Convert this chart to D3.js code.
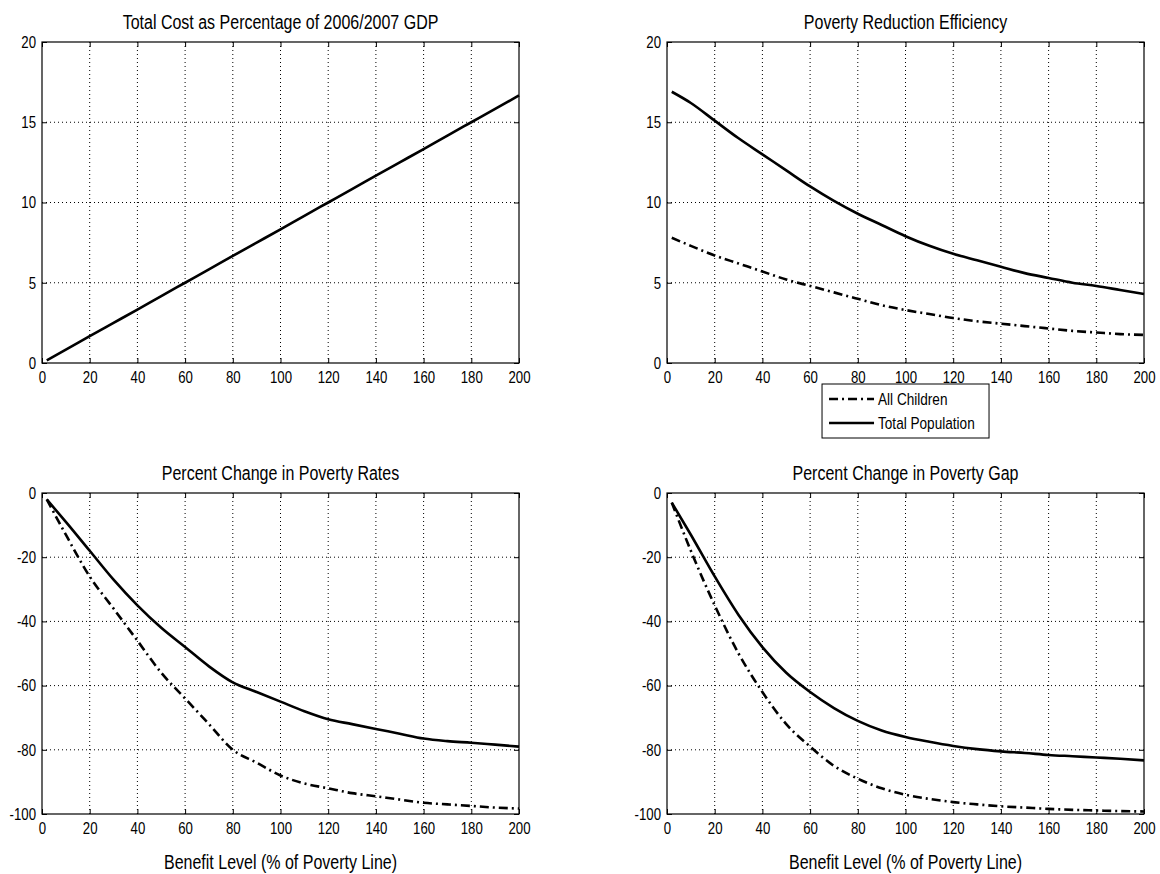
<!DOCTYPE html>
<html>
<head>
<meta charset="utf-8">
<script src="https://cdn.jsdelivr.net/npm/d3@7"></script>
<style>
  body { margin: 0; background: #fff; }
  svg text { font-family: "Liberation Sans", Arial, sans-serif; fill: #000; }
</style>
</head>
<body>
<svg id="chart" width="1160" height="874"></svg>
<script>
// benefit level (% of poverty line)
const benefitLevels = [2, 10, 20, 30, 40, 50, 60, 70, 80, 90, 100, 110, 120, 130, 140, 150, 160, 170, 180, 190, 200];
const xTicks = [0, 20, 40, 60, 80, 100, 120, 140, 160, 180, 200];

const costPctGdp = [0.17, 0.83, 1.67, 2.50, 3.33, 4.17, 5.00, 5.83, 6.67, 7.50, 8.33, 9.17, 10.00, 10.83, 11.67, 12.50, 13.33, 14.17, 15.00, 15.83, 16.67];

const effChildren = [7.8, 7.3, 6.7, 6.2, 5.7, 5.2, 4.8, 4.4, 4.0, 3.6, 3.3, 3.05, 2.8, 2.6, 2.45, 2.3, 2.15, 2.0, 1.9, 1.8, 1.75];
const effTotal = [16.9, 16.2, 15.1, 14.0, 13.0, 12.0, 11.0, 10.1, 9.3, 8.6, 7.9, 7.3, 6.8, 6.4, 6.0, 5.6, 5.3, 5.0, 4.8, 4.55, 4.3];

const rateChildren = [-2, -13, -26, -36, -46, -56, -64, -72, -80, -84, -88, -90.5, -92, -93.5, -94.5, -95.5, -96.5, -97, -97.5, -98, -98.3];
const rateTotal = [-2, -9, -18, -27, -35, -42, -48, -54, -59, -62, -65, -68, -70.5, -72, -73.5, -75, -76.5, -77.3, -77.8, -78.4, -79];

const gapChildren = [-3, -18, -35, -50, -62, -72, -79, -85, -89, -92, -94, -95.3, -96.3, -97, -97.6, -98, -98.4, -98.7, -98.9, -99.1, -99.2];
const gapTotal = [-3, -13, -26, -38, -48, -56, -62, -67, -71, -74, -76, -77.5, -78.8, -79.8, -80.5, -81, -81.6, -82, -82.4, -82.8, -83.3];

const legendLabels = ["All Children", "Total Population"];
const xLabel = "Benefit Level (% of Poverty Line)";

const dashDot = "9,4,2,4";
const squeeze = "scale(0.8,1)";   // narrow look of the original font

const svg = d3.select("#chart");
svg.append("rect").attr("width", 1160).attr("height", 874).attr("fill", "#fff");

const plotW = 477, plotH = 321;
const cols = [42, 667];
const rows = [42, 493];

const panels = [
    {title: "Total Cost as Percentage of 2006/2007 GDP", col: 0, row: 0, yDomain: [0, 20], yTicks: [0, 5, 10, 15, 20],
     series: [{values: costPctGdp, dash: null}]},
    {title: "Poverty Reduction Efficiency", col: 1, row: 0, yDomain: [0, 20], yTicks: [0, 5, 10, 15, 20],
     series: [{values: effChildren, dash: dashDot}, {values: effTotal, dash: null}], legend: true},
    {title: "Percent Change in Poverty Rates", col: 0, row: 1, yDomain: [-100, 0], yTicks: [-100, -80, -60, -40, -20, 0],
     series: [{values: rateChildren, dash: dashDot}, {values: rateTotal, dash: null}], xlabel: true},
    {title: "Percent Change in Poverty Gap", col: 1, row: 1, yDomain: [-100, 0], yTicks: [-100, -80, -60, -40, -20, 0],
     series: [{values: gapChildren, dash: dashDot}, {values: gapTotal, dash: null}], xlabel: true}
];

function label(parent, x, y, txt, size, anchor) {
    parent.append("g").attr("transform", `translate(${x},${y})`)
        .append("text")
        .attr("transform", squeeze)
        .attr("text-anchor", anchor || "middle")
        .attr("font-size", size)
        .text(txt);
}

panels.forEach(p => {
    const left = cols[p.col], top = rows[p.row];
    const g = svg.append("g").attr("transform", `translate(${left},${top})`);

    const x = d3.scaleLinear().domain([0, 200]).range([0, plotW]);
    const y = d3.scaleLinear().domain(p.yDomain).range([plotH, 0]);

    // dotted grid
    g.append("g").selectAll("line").data(xTicks.slice(1, -1)).join("line")
        .attr("x1", d => x(d)).attr("x2", d => x(d))
        .attr("y1", 0).attr("y2", plotH)
        .attr("stroke", "#000").attr("stroke-width", 1).attr("stroke-dasharray", "1,3");
    g.append("g").selectAll("line").data(p.yTicks.slice(1, -1)).join("line")
        .attr("x1", 0).attr("x2", plotW)
        .attr("y1", d => y(d)).attr("y2", d => y(d))
        .attr("stroke", "#000").attr("stroke-width", 1).attr("stroke-dasharray", "1,3");

    // axes, ticks pointing inward, plain hyphen minus
    const fmt = d => String(d);
    g.append("g").attr("class", "xAxis").attr("transform", `translate(0,${plotH})`)
        .call(d3.axisBottom(x).tickValues(xTicks).tickSize(-5).tickSizeOuter(0).tickPadding(8).tickFormat(fmt));
    g.append("g").attr("class", "yAxis")
        .call(d3.axisLeft(y).tickValues(p.yTicks).tickSize(-5).tickSizeOuter(0).tickPadding(7.5).tickFormat(fmt));
    g.append("g").call(d3.axisTop(x).tickValues(xTicks).tickSize(-5).tickSizeOuter(0).tickFormat(""));
    g.append("g").attr("transform", `translate(${plotW},0)`)
        .call(d3.axisRight(y).tickValues(p.yTicks).tickSize(-5).tickSizeOuter(0).tickFormat(""));

    g.selectAll(".domain").remove();
    g.selectAll(".tick line").attr("stroke", "#000");
    g.selectAll(".xAxis .tick text, .yAxis .tick text")
        .attr("font-size", 16.5)
        .attr("font-family", null)
        .attr("transform", squeeze);

    g.append("rect").attr("width", plotW).attr("height", plotH)
        .attr("fill", "none").attr("stroke", "#000").attr("stroke-width", 1.2);

    // series
    const line = d3.line()
        .x((d, i) => x(benefitLevels[i]))
        .y(d => y(d))
        .curve(d3.curveMonotoneX);
    p.series.forEach(s => {
        g.append("path").datum(s.values)
            .attr("d", line)
            .attr("fill", "none")
            .attr("stroke", "#000")
            .attr("stroke-width", 2.6)
            .attr("stroke-dasharray", s.dash);
    });

    label(g, plotW / 2, -13, p.title, 20);

    if (p.xlabel) {
        label(g, plotW / 2, plotH + 55, xLabel, 20);
    }

    if (p.legend) {
        const lx = x(65), ly = plotH + 21;
        const lg = g.append("g").attr("transform", `translate(${lx},${ly})`);
        lg.append("rect").attr("width", 167).attr("height", 54)
            .attr("fill", "#fff").attr("stroke", "#000").attr("stroke-width", 1);
        p.series.forEach((s, i) => {
            const yy = 15 + i * 24;
            lg.append("line").attr("x1", 7).attr("x2", 52).attr("y1", yy).attr("y2", yy)
                .attr("stroke", "#000").attr("stroke-width", 2.6).attr("stroke-dasharray", s.dash);
            label(lg, 56, yy + 6, legendLabels[i], 17, "start");
        });
    }
});
</script>
</body>
</html>
